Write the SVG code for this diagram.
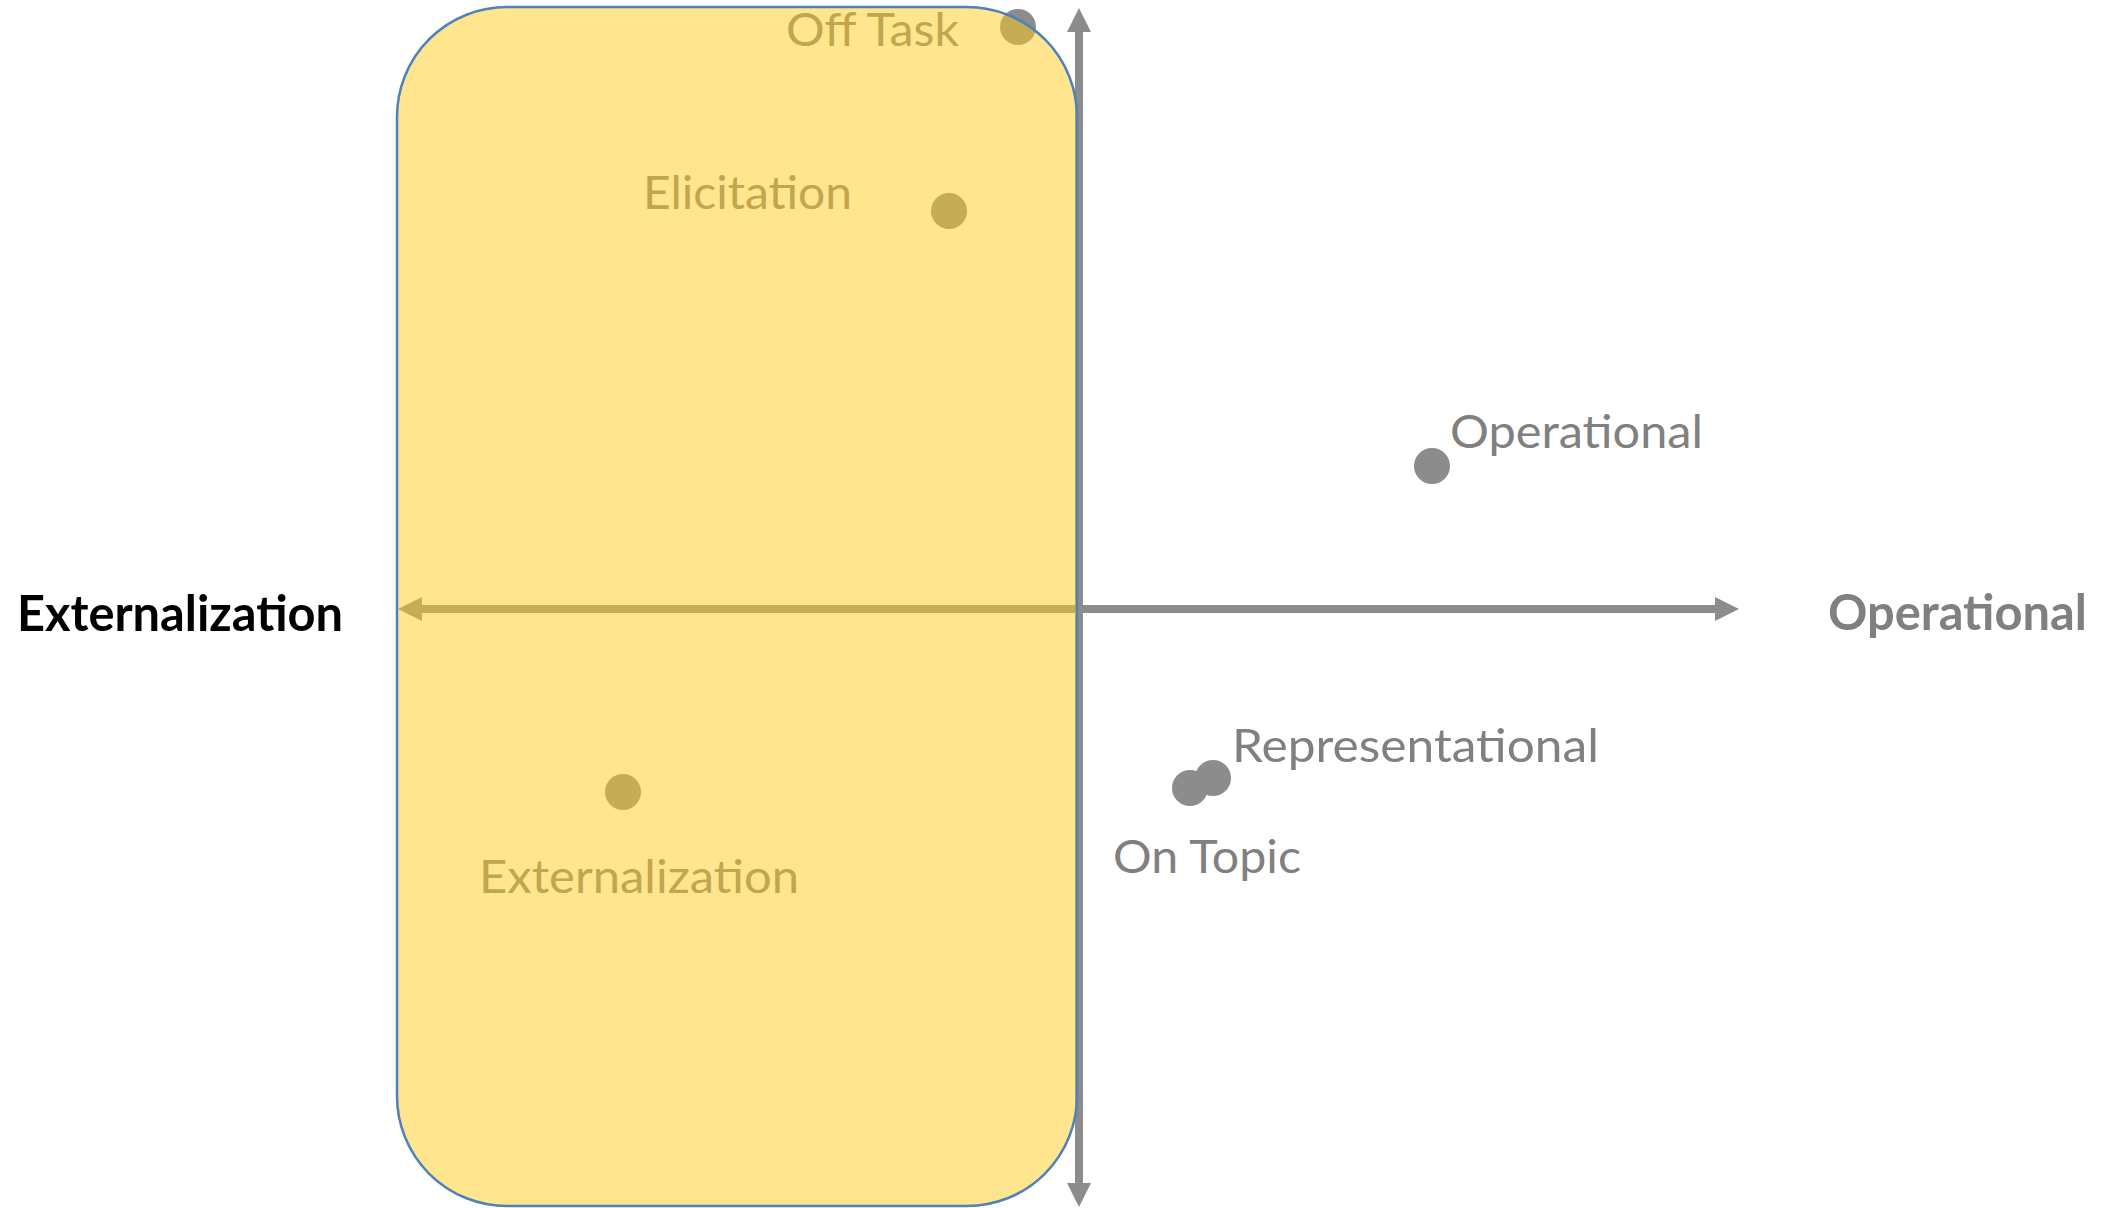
<svg xmlns="http://www.w3.org/2000/svg" width="2105" height="1208" viewBox="0 0 2105 1208">
  <style>
    .dot { fill: #8c8c8c; }
    .lbl { font-family: Lato, "Open Sans", "Liberation Sans", sans-serif; font-size: 47px; fill: #808080; }
    .axis-title { font-family: Lato, "Open Sans", "Liberation Sans", sans-serif; font-size: 49px; font-weight: bold; }
    .axis { stroke: #8c8c8c; stroke-width: 8; fill: none; }
    .region { fill: rgb(253,204,30); fill-opacity: 0.5; stroke: #4f81bd; stroke-width: 2.5; }
  </style>
  <defs>
    <marker id="head" markerUnits="userSpaceOnUse" markerWidth="24" markerHeight="24" viewBox="0 0 24 24" refX="2" refY="12" orient="auto-start-reverse">
      <path d="M0,0 L24,12 L0,24 Z" fill="#8c8c8c"/>
    </marker>
  </defs>
  <rect width="2105" height="1208" fill="#ffffff"/>

  <g id="connectors">
    <line class="axis" x1="420" y1="609" x2="1717" y2="609" marker-start="url(#head)" marker-end="url(#head)"/>
    <line class="axis" x1="1079" y1="30" x2="1079" y2="1185" marker-start="url(#head)" marker-end="url(#head)"/>
  </g>

  <g id="axis-label-externalization">
    <text class="axis-title" x="17" y="631" fill="#000000" textLength="326" lengthAdjust="spacingAndGlyphs">Externalization</text>
  </g>
  <g id="axis-label-operational">
    <text class="axis-title" x="1828" y="630" fill="#808080" textLength="259" lengthAdjust="spacingAndGlyphs">Operational</text>
  </g>

  <g id="node-off-task">
    <circle class="dot" cx="1018" cy="27" r="18"/>
    <text class="lbl" x="786" y="46" textLength="173" lengthAdjust="spacingAndGlyphs">Off Task</text>
  </g>
  <g id="node-elicitation">
    <circle class="dot" cx="949" cy="211" r="18"/>
    <text class="lbl" x="643" y="209" textLength="209" lengthAdjust="spacingAndGlyphs">Elicitation</text>
  </g>
  <g id="node-operational">
    <circle class="dot" cx="1432" cy="466" r="18"/>
    <text class="lbl" x="1450" y="448" textLength="253" lengthAdjust="spacingAndGlyphs">Operational</text>
  </g>
  <g id="node-representational">
    <circle class="dot" cx="1213" cy="778" r="18"/>
    <text class="lbl" x="1232" y="762" textLength="367" lengthAdjust="spacingAndGlyphs">Representational</text>
  </g>
  <g id="node-on-topic">
    <circle class="dot" cx="1190" cy="788" r="18"/>
    <text class="lbl" x="1113" y="873" textLength="188" lengthAdjust="spacingAndGlyphs">On Topic</text>
  </g>
  <g id="node-externalization">
    <circle class="dot" cx="623" cy="792" r="18"/>
    <text class="lbl" x="479" y="893" textLength="320" lengthAdjust="spacingAndGlyphs">Externalization</text>
  </g>

  <g id="region-externalization">
    <rect class="region" x="397" y="7" width="680" height="1199" rx="110" ry="110"/>
  </g>
</svg>
